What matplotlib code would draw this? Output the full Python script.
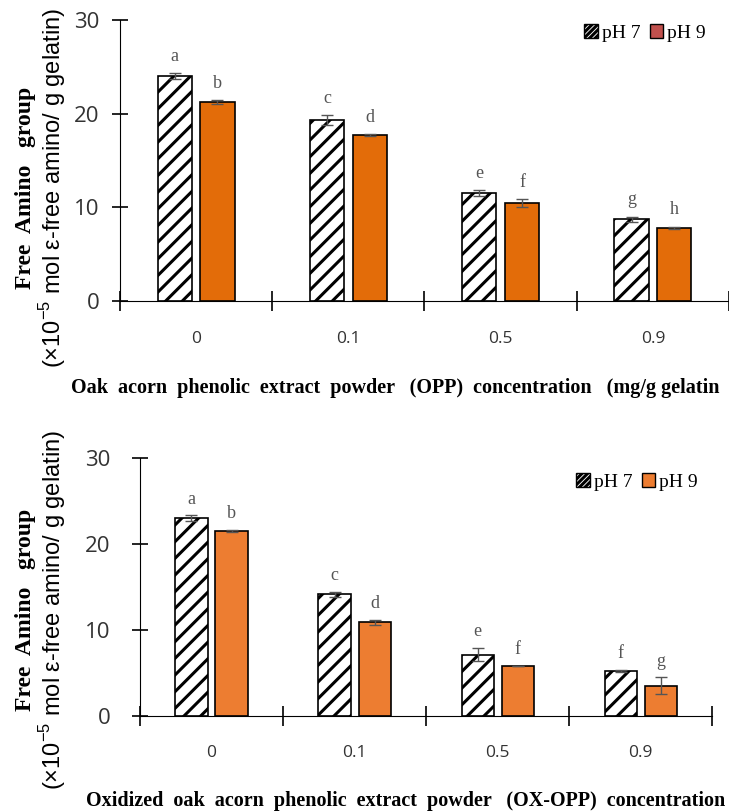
import matplotlib
matplotlib.use("Agg")
import matplotlib.pyplot as plt
import numpy as np
from matplotlib.patches import Patch

plt.rcParams['hatch.linewidth'] = 2.2
plt.rcParams['mathtext.fontset'] = 'custom'
plt.rcParams['mathtext.rm'] = 'Liberation Sans'

conc = ["0", "0.1", "0.5", "0.9"]

# top panel: OPP
opp_ph7 = [24.0, 19.3, 11.5, 8.7]
opp_ph7_err = [0.3, 0.5, 0.3, 0.3]
opp_ph9 = [21.2, 17.7, 10.45, 7.8]
opp_ph9_err = [0.2, 0.1, 0.4, 0.1]
opp_ph7_let = ["a", "c", "e", "g"]
opp_ph9_let = ["b", "d", "f", "h"]

# bottom panel: OX-OPP
ox_ph7 = [23.0, 14.15, 7.15, 5.25]
ox_ph7_err = [0.3, 0.3, 0.75, 0.1]
ox_ph9 = [21.5, 10.9, 5.83, 3.55]
ox_ph9_err = [0.1, 0.3, 0.05, 0.97]
ox_ph7_let = ["a", "c", "e", "f"]
ox_ph9_let = ["b", "d", "f", "g"]

fig = plt.figure(figsize=(7.29, 8.11), dpi=100)

def panel(rect, v7, e7, v9, e9, l7, l9, c9, legc, lab_pad, xt_pad, ylab_y, xlab, xlab_x, xlab_y, leg_y, leg_x):
    ax = fig.add_axes(rect)
    x = np.arange(len(conc))
    w = 0.225
    ax.bar(x - 0.14, v7, w, color='white', edgecolor='black', hatch='//', lw=1.2, zorder=2)
    ax.bar(x + 0.14, v9, w, color=c9, edgecolor='black', lw=1.2, zorder=2)
    ax.errorbar(x - 0.14, v7, yerr=e7, fmt='none', ecolor='#555555', capsize=4, lw=1, zorder=3)
    ax.errorbar(x + 0.14, v9, yerr=e9, fmt='none', ecolor='#555555', capsize=4, lw=1, zorder=3)
    for i in range(len(conc)):
        ax.text(x[i] - 0.14, v7[i] + e7[i] + 0.9, l7[i], ha='center', va='bottom',
                family='Liberation Serif', fontsize=13, color='#555555')
        ax.text(x[i] + 0.14, v9[i] + e9[i] + 0.9, l9[i], ha='center', va='bottom',
                family='Liberation Serif', fontsize=13, color='#555555')
    ax.set_xlim(-0.5, 3.5)
    ax.set_ylim(0, 30)
    ax.set_yticks([0, 10, 20, 30])
    ax.spines['top'].set_visible(False)
    ax.spines['right'].set_visible(False)
    ax.spines['left'].set_bounds(0, 30)
    ax.set_xticks(x)
    ax.set_xticklabels(conc, family='Open Sans', fontsize=12.5, color='#333333')
    ax.set_xticks(np.arange(-0.5, 3.6, 1), minor=True)
    ax.tick_params(axis='x', which='major', length=0, pad=xt_pad)
    ax.tick_params(axis='x', which='minor', direction='inout', length=14, width=1.2)
    ax.tick_params(axis='y', direction='inout', length=12, width=1.2, pad=lab_pad)
    for t in ax.get_yticklabels():
        t.set_family('Open Sans')
        t.set_fontsize(16)
        t.set_color('#333333')
    h = [Patch(facecolor='white', edgecolor='black', hatch='//////', lw=1),
         Patch(facecolor=legc, edgecolor='black', lw=1)]
    fig.legend(h, ["pH 7", "pH 9"], loc='center left', bbox_to_anchor=(leg_x, leg_y), ncol=2,
               frameon=False, prop={'family': 'Liberation Serif', 'size': 14},
               handlelength=0.7, handleheight=0.7, handletextpad=0.2, columnspacing=0.5,
               borderaxespad=0, borderpad=0)
    fig.text(26 / 729, ylab_y, "Free  Amino   group", rotation=90, ha='center', va='center',
             family='Liberation Serif', weight='bold', fontsize=17)
    fig.text(53 / 729, ylab_y, "(×10$^{-5}$ mol ε-free amino/ g gelatin)", rotation=90,
             ha='center', va='center', family='Liberation Sans', fontsize=17)
    fig.text(xlab_x, xlab_y, xlab, ha='center', va='center', family='Liberation Serif',
             weight='bold', fontsize=14.5)
    return ax

panel([0.1646, 0.6292, 0.8354, 0.3461], opp_ph7, opp_ph7_err, opp_ph9, opp_ph9_err,
      opp_ph7_let, opp_ph9_let, '#E36C09', '#C0504D', 9, 22, 1 - 188 / 811,
      "Oak  acorn  phenolic  extract  powder   (OPP)  concentration   (mg/g gelatin",
      395 / 729, 1 - 388 / 811, 1 - 33 / 811, 584 / 729)

panel([0.192, 0.1168, 0.785, 0.3189], ox_ph7, ox_ph7_err, ox_ph9, ox_ph9_err,
      ox_ph7_let, ox_ph9_let, '#ED7D31', '#ED7D31', 15, 21, 1 - 610 / 811,
      "Oxidized  oak  acorn  phenolic  extract  powder   (OX-OPP)  concentration",
      406 / 729, 1 - 801 / 811, 1 - 482 / 811, 576 / 729)

fig.savefig("out.png", dpi=100)
